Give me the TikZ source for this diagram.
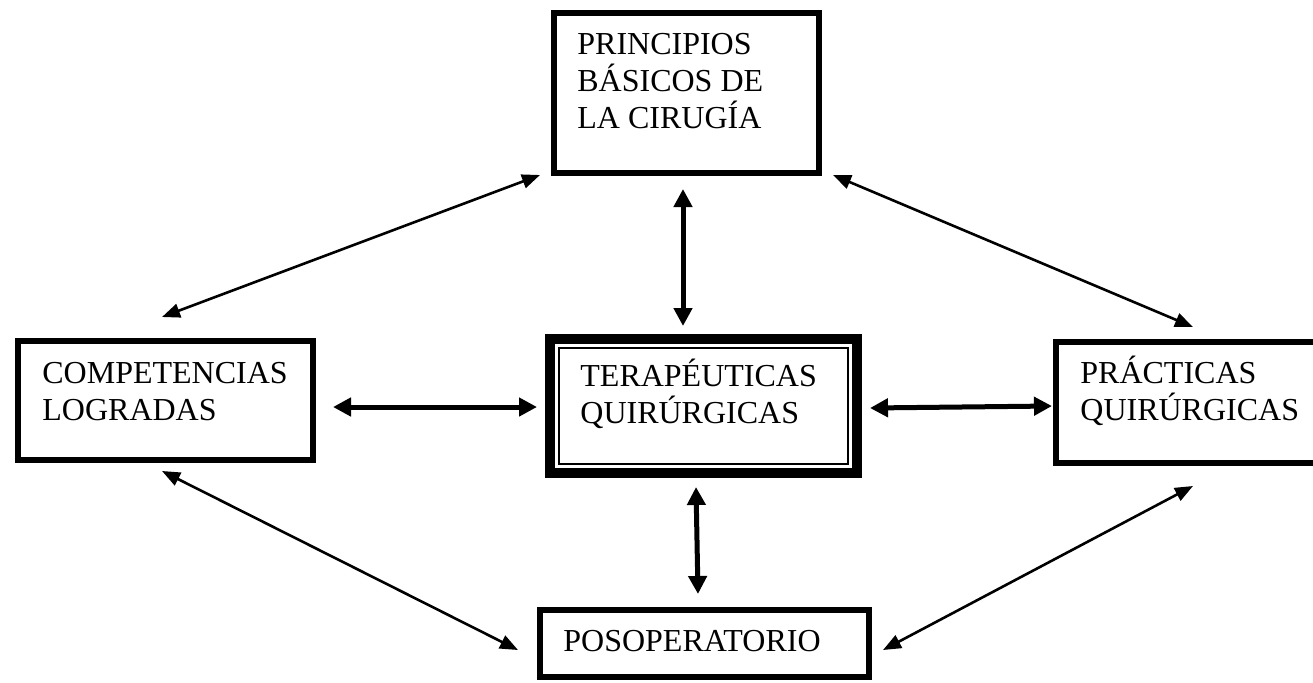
\documentclass[tikz,border=0pt]{standalone}
\usepackage{fontspec}
\setmainfont{Liberation Serif}
\usepackage{tikz}
\usetikzlibrary{arrows.meta}

\begin{document}
\begin{tikzpicture}[x=0.5pt, y=-0.5pt,
    box/.style={draw, line width=3pt, inner sep=0pt},
    midbox/.style={draw, line width=5pt, inner sep=0pt},
    txt/.style={anchor=base west, inner sep=0pt, align=left,
        font=\fontsize{16}{18.4}\selectfont},
    thinarr/.style={line width=1.3pt,
        {Triangle[length=9pt, width=7pt]}-{Triangle[length=9pt, width=7pt]}},
    thickarr/.style={line width=2.5pt,
        {Triangle[length=9pt, width=9pt]}-{Triangle[length=9pt, width=9pt]}}]
    \useasboundingbox (0,0) rectangle (1313,682);
    \node[box, minimum width=132.5pt, minimum height=80pt] (top) at (686.5,93) {};
    \node[box, minimum width=147.5pt, minimum height=59.5pt] (left) at (165.5,400.5) {};
    \node[midbox, minimum width=153.5pt, minimum height=67pt] (mid) at (703.5,406) {};
    \node[box, minimum width=133pt, minimum height=60.5pt] (right) at (1189,402.5) {};
    \node[box, minimum width=164.5pt, minimum height=33.5pt] (bottom) at (704.5,643.5) {};
    \draw[line width=1.25pt] ([shift={(14,14)}]mid.north west) rectangle ([shift={(-14,-14)}]mid.south east);

    \node[txt] (toptxt) at ([shift={(26,118)}]top.north west) {PRINCIPIOS\\BÁSICOS DE\\LA CIRUGÍA};
    \node[txt] (lefttxt) at ([shift={(27,82)}]left.north west) {COMPETENCIAS\\LOGRADAS};
    \node[txt] (midtxt) at ([shift={(35,89)}]mid.north west) {TERAPÉUTICAS\\QUIRÚRGICAS};
    \node[txt] (righttxt) at ([shift={(27,81)}]right.north west) {PRÁCTICAS\\QUIRÚRGICAS};
    \node[txt] (bottomtxt) at ([shift={(26,44)}]bottom.north west) {POSOPERATORIO};

    \path[thinarr]
    ([shift={(-3.5,-21)}]left.north) edge ([shift={(-11,-1)}]top.south west)
    ([shift={(11,-1)}]top.south east) edge ([shift={(4,-12)}]right.north)
    ([shift={(-3.5,8)}]left.south) edge ([shift={(-19,6.5)}]bottom.west)
    ([shift={(4,20)}]right.south) edge ([shift={(11,6.5)}]bottom.east);
    \path[thickarr]
    ([shift={(-3.5,13)}]top.south) edge ([shift={(-20.5,-8)}]mid.north)
    ([shift={(17,6.5)}]left.east) edge ([shift={(-8,1)}]mid.west)
    ([shift={(8,2)}]mid.east) edge ([shift={(-1,3.5)}]right.west)
    ([shift={(-7.5,9)}]mid.south) edge ([shift={(-6.5,-13)}]bottom.north);
\end{tikzpicture}
\end{document}
